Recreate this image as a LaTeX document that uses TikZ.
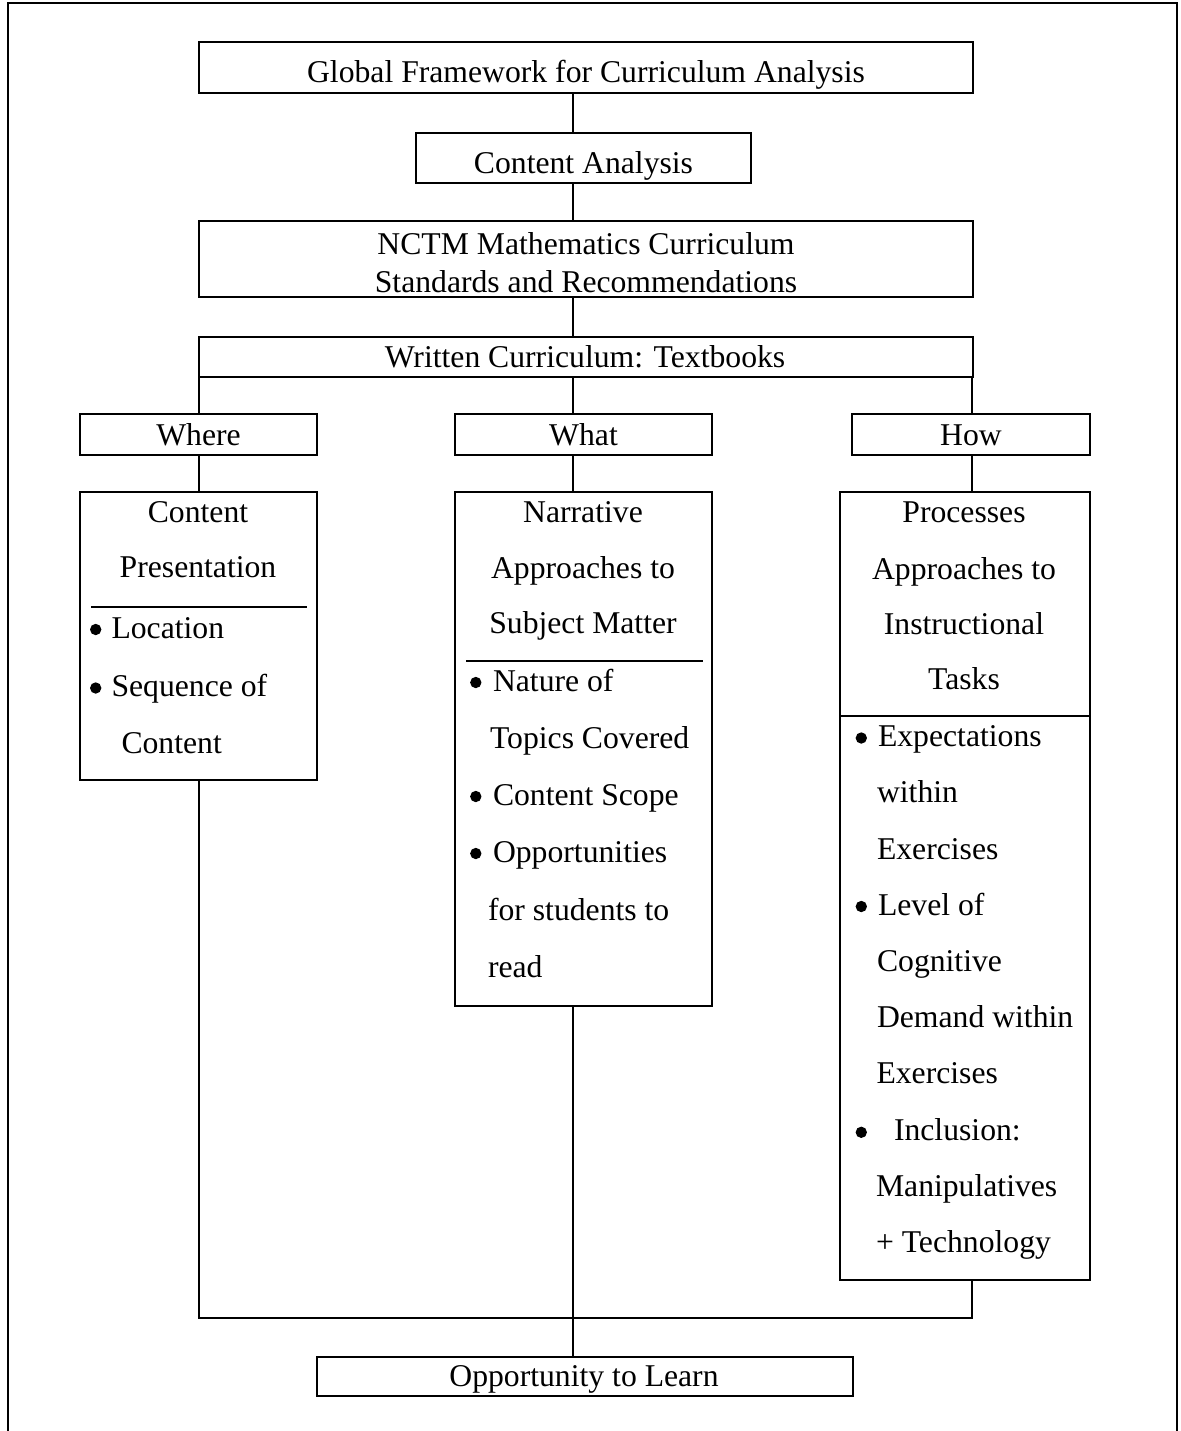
\documentclass[tikz,border=0pt]{standalone}
\usepackage{fontspec}
\setmainfont{Liberation Serif}
\usetikzlibrary{fit,calc}
\begin{document}
\begin{tikzpicture}[x=0.3788pt,y=-0.3788pt,
  box/.style={draw,line width=0.95pt,inner sep=0pt},
  conn/.style={line width=0.85pt},
  sepline/.style={line width=0.9pt},
  frameline/.style={line width=1.05pt},
  txt/.style={anchor=base,inner sep=0pt,font=\fontsize{12}{14}\selectfont},
  ltxt/.style={anchor=base west,inner sep=0pt,font=\fontsize{12}{14}\selectfont},
  bul/.style={circle,fill,inner sep=0pt,minimum size=4.3pt}]
\useasboundingbox (0,0) rectangle (1181,1431);
\draw[frameline] (8,1431) -- (8,3) -- (1177,3) -- (1177,1431);

% boxes
\node[box,fit={(199,42) (973,93)}] (glob) {};
\node[box,fit={(416,133) (751,183)}] (ca) {};
\node[box,fit={(199,221) (973,297)}] (nctm) {};
\node[box,fit={(199,337) (973,377)}] (wc) {};
\node[box,fit={(80,414) (317,455)}] (where) {};
\node[box,fit={(455,414) (712,455)}] (what) {};
\node[box,fit={(852,414) (1090,455)}] (how) {};
\node[box,fit={(80,492) (317,780)}] (cp) {};
\node[box,fit={(455,492) (712,1006)}] (nar) {};
\node[box,fit={(840,492) (1090,1280)}] (proc) {};
\node[box,fit={(317,1357) (853,1396)}] (otl) {};

% single-line texts
\node[txt] at (586,82) {Global Framework for Curriculum Analysis};
\node[txt] at (583.5,173) {Content Analysis};
\node[txt] at (586,254) {NCTM Mathematics Curriculum};
\node[txt] at (586,292) {Standards and Recommendations};
\node[txt] at (585,367) {Written Curriculum: Textbooks};
\node[txt] at (198.5,445) {Where};
\node[txt] at (583.5,445) {What};
\node[txt] at (971,445) {How};
\node[txt] at (584,1386.5) {Opportunity to Learn};

% Content Presentation
\node[txt] at (198,522) {Content};
\node[txt] at (198,577) {Presentation};
\draw[sepline] (91,606.7) -- (306.7,606.7);
\node[bul] (b1) at (95.7,629.5) {};
\node[ltxt] at (111,638) {Location};
\node[bul] (b2) at (95.7,688) {};
\node[ltxt] at (111,696.7) {Sequence of};
\node[ltxt] at (121,753) {Content};

% Narrative
\node[txt] at (583,522) {Narrative};
\node[txt] at (583,578) {Approaches to};
\node[txt] at (583,633) {Subject Matter};
\draw[sepline] (466,661) -- (703,661);
\node[bul] (b3) at (475.8,682.5) {};
\node[ltxt] at (492.5,691) {Nature of};
\node[ltxt] at (489.5,748) {Topics Covered};
\node[bul] (b4) at (475.8,796.5) {};
\node[ltxt] at (492.5,805) {Content Scope};
\node[bul] (b5) at (475.8,853.5) {};
\node[ltxt] at (492.5,862) {Opportunities};
\node[ltxt] at (487.5,920) {for students to};
\node[ltxt] at (487.5,977) {read};

% Processes
\node[txt] at (964,522) {Processes};
\node[txt] at (964,579) {Approaches to};
\node[txt] at (964,634) {Instructional};
\node[txt] at (964,689) {Tasks};
\draw[sepline] (840,716) -- (1090,716);
\node[bul] (b6) at (861.3,738) {};
\node[ltxt] at (877.5,746.7) {Expectations};
\node[ltxt] at (876.5,802.9) {within};
\node[ltxt] at (876.5,859) {Exercises};
\node[bul] (b7) at (861.3,906.5) {};
\node[ltxt] at (877.5,915.1) {Level of};
\node[ltxt] at (876.5,971.3) {Cognitive};
\node[ltxt] at (876.5,1027.4) {Demand within};
\node[ltxt] at (876,1083.6) {Exercises};
\node[bul] (b8) at (861.3,1132.3) {};
\node[ltxt] at (893.5,1140.3) {Inclusion:};
\node[ltxt] at (875.5,1196.3) {Manipulatives};
\node[ltxt] at (875.5,1252.1) {+ Technology};

% connectors
\coordinate (axis) at (573,0);
\coordinate (lx) at (199,0);
\coordinate (rx) at (972,0);
\coordinate (join) at (573,1318);
\draw[conn] (axis |- glob.south) -- (axis |- ca.north);
\draw[conn] (axis |- ca.south) -- (axis |- nctm.north);
\draw[conn] (axis |- nctm.south) -- (axis |- wc.north);
\draw[conn] (lx |- wc.south) -- (lx |- where.north);
\draw[conn] (axis |- wc.south) -- (axis |- what.north);
\draw[conn] (rx |- wc.south) -- (rx |- how.north);
\draw[conn] (lx |- where.south) -- (lx |- cp.north);
\draw[conn] (axis |- what.south) -- (axis |- nar.north);
\draw[conn] (rx |- how.south) -- (rx |- proc.north);
\draw[conn] (lx |- cp.south) |- (join) -| (rx |- proc.south);
\draw[conn] (axis |- nar.south) -- (axis |- otl.north);
\end{tikzpicture}
\end{document}
